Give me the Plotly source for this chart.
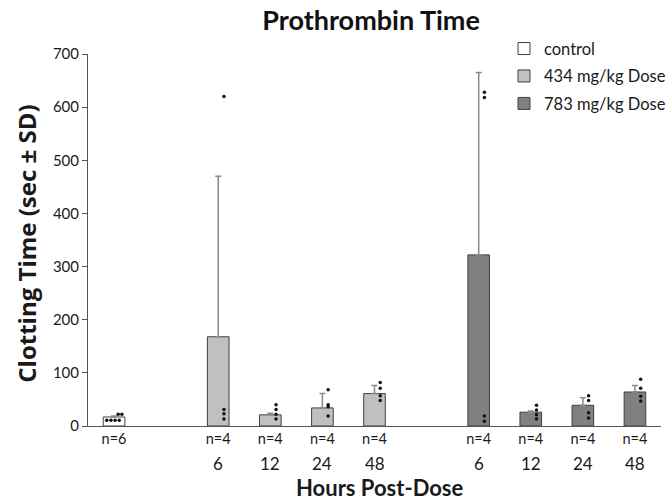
import plotly.graph_objects as go

# ---------------- data ----------------
series_names = ["control", "434 mg/kg Dose", "783 mg/kg Dose"]
hours = [6, 12, 24, 48]

control_mean = [17]
control_sd = [2]
control_n = [6]
control_points = [[11, 11, 11, 11, 22, 22]]

dose434_mean = [168, 21, 34, 61]
dose434_sd = [302, 3, 27, 15]
dose434_n = [4, 4, 4, 4]
dose434_points = [[620, 31, 23, 13], [40, 31, 22, 13], [68, 40, 36, 19], [82, 71, 57, 48]]

dose783_mean = [322, 26, 39, 64]
dose783_sd = [343, 2, 14, 12]
dose783_n = [4, 4, 4, 4]
dose783_points = [[628, 618, 19, 9], [39, 30, 21, 13], [57, 48, 25, 15], [88, 71, 56, 47]]

y_ticks = [0, 100, 200, 300, 400, 500, 600, 700]

# ---------------- style ----------------
colors = ["#ffffff", "#c0c0c0", "#808080"]
edge = "#404040"
font_family = "Lato, 'Open Sans', sans-serif"
wide_family = "'Open Sans', 'Noto Sans', sans-serif"
text_color = "#1a1a1a"

# slot positions: control at 0, gap, 434 group, gap, 783 group
pos_control = [0]
pos_434 = [2 + i for i in range(len(hours))]
pos_783 = [pos_434[-1] + 2 + i for i in range(len(hours))]

groups = [
    (series_names[0], pos_control, control_mean, control_sd, control_n, control_points, colors[0]),
    (series_names[1], pos_434, dose434_mean, dose434_sd, dose434_n, dose434_points, colors[1]),
    (series_names[2], pos_783, dose783_mean, dose783_sd, dose783_n, dose783_points, colors[2]),
]

fig = go.Figure()
bar_w = 0.415

for name, pos, mean, sd, n, pts, col in groups:
    fig.add_trace(go.Bar(
        x=pos, y=mean, name=name, width=bar_w,
        marker=dict(color=col, line=dict(color=edge, width=1)),
        error_y=dict(type="data", symmetric=False, array=sd, arrayminus=[0] * len(sd),
                     color="#8a8a8a", thickness=1.5, width=3),
        legendgroup=name,
    ))

# individual data points
for name, pos, mean, sd, n, pts, col in groups:
    xs, ys = [], []
    for p, vals in zip(pos, pts):
        if name == "control":
            top = max(vals)
            low = [v for v in vals if v < top]
            high = [v for v in vals if v == top]
            for j, v in enumerate(low):
                xs.append(p - 0.14 + 0.24 * j / max(len(low) - 1, 1))
                ys.append(v)
            for j, v in enumerate(high):
                xs.append(p + 0.08 + 0.07 * j)
                ys.append(v)
        else:
            for v in vals:
                xs.append(p + 0.11)
                ys.append(v)
    fig.add_trace(go.Scatter(
        x=xs, y=ys, mode="markers", showlegend=False,
        marker=dict(color="#111111", size=3.5), hoverinfo="skip",
    ))

# tick labels (n=) and hours row
all_pos = pos_control + pos_434 + pos_783
all_n = control_n + dose434_n + dose783_n
ticktext = ["n=%d" % v for v in all_n]

annotations = []
for pos in (pos_434, pos_783):
    for p, h in zip(pos, hours):
        annotations.append(dict(x=p, y=-0.0995, xref="x", yref="paper", text=str(h),
                                showarrow=False, yanchor="middle",
                                font=dict(size=17, color=text_color, family=font_family)))
annotations.append(dict(x=0.51, y=-0.164, xref="paper", yref="paper", text="<b>Hours Post-Dose</b>",
                        showarrow=False, yanchor="middle",
                        font=dict(size=22, color=text_color, family=font_family)))
annotations.append(dict(x=-0.1065, y=0.49, xref="paper", yref="paper",
                        text="<b>Clotting Time (sec ± SD)</b>", textangle=-90,
                        showarrow=False, xanchor="center", yanchor="middle",
                        font=dict(size=24, color=text_color, family=wide_family)))

fig.update_layout(
    width=672, height=500,
    margin=dict(l=88, r=11, t=54, b=74, autoexpand=False),
    paper_bgcolor="white", plot_bgcolor="white",
    font=dict(family=font_family, color=text_color),
    title=dict(text="<b>Prothrombin Time</b>", x=0.494, xref="paper", xanchor="center",
               y=0.958, yanchor="middle",
               font=dict(size=27, color="#111111", family=font_family)),
    barmode="overlay",
    showlegend=True,
    legend=dict(x=0.726, y=1.061, xanchor="left", yanchor="top",
                font=dict(size=16.5, color=text_color, family=font_family),
                bgcolor="rgba(0,0,0,0)", traceorder="grouped", tracegroupgap=3,
                itemwidth=30),
    annotations=annotations,
    xaxis=dict(range=[-0.5, pos_783[-1] + 0.5], tickmode="array", tickvals=all_pos,
               ticktext=ticktext, showgrid=False, zeroline=False, showline=True,
               linecolor="#555555", linewidth=1, ticks="",
               tickfont=dict(size=14.5, color=text_color, family=font_family)),
    yaxis=dict(range=[0, 700], tickmode="array", tickvals=y_ticks, showgrid=False,
               zeroline=False, showline=True, linecolor="#555555", linewidth=1,
               ticks="outside", ticklen=5, tickcolor="#555555",
               tickfont=dict(size=15, color=text_color, family=font_family)),
)

fig.write_html("out.html", config={"displayModeBar": False},
               post_script="document.body.style.margin='0';document.body.style.padding='0';")
